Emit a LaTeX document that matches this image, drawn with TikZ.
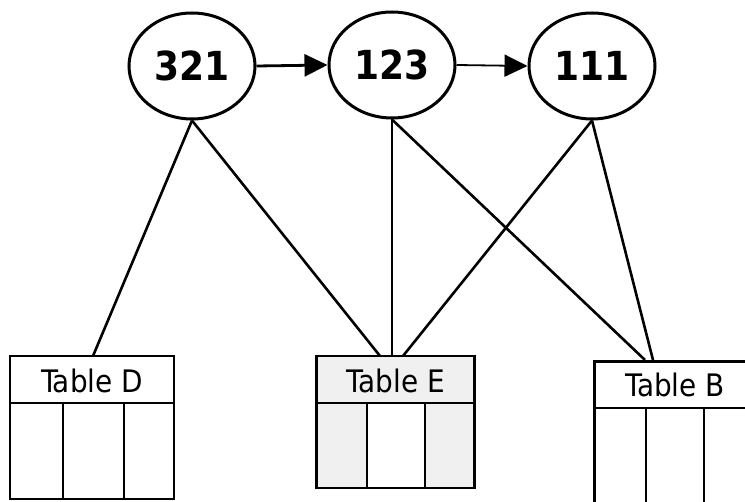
\documentclass[tikz,border=0pt]{standalone}
\usepackage{fontspec}
\usetikzlibrary{shapes.geometric,arrows.meta}
\newfontfamily\condfont{DejaVu Sans Condensed}
\begin{document}
\begin{tikzpicture}[x=1pt,y=-1pt,
  oval/.style={ellipse,draw,line width=3pt,minimum width=126pt,minimum height=106pt,inner sep=0pt,
    font=\condfont\bfseries\fontsize{40}{42}\selectfont},
  link/.style={line width=2.6pt},
  arr/.style={-{Triangle[length=23pt,width=22pt]}},
  tbl/.style={draw,line width=2.7pt,rectangle,inner sep=0pt},
  tlabel/.style={font=\condfont\fontsize{31}{33}\selectfont,inner sep=0pt},
  speck/.style={fill=black!6,draw=none}
]
\useasboundingbox (0,0) rectangle (745,502);
\clip (0,0) rectangle (745,502);
\fill[white] (0,0) rectangle (745,502);

% ovals
\node[oval] (n321) at (192,66) {321};
\node[oval] (n123) at (392,65) {123};
\node[oval] (n111) at (592,66) {111};

\draw[line width=2.8pt,arr] (n321.east) -- (n123.west);
\draw[line width=1.8pt,arr] (n123.east) -- (n111.west);

% Table D
\node[tbl,minimum width=164pt,minimum height=143pt] (tD) at (92,427.5) {};
\draw[line width=2.7pt] (11,403) -- (174,403);
\draw[line width=2.7pt] (63,403) -- (63,499);
\draw[line width=2.7pt] (124,403) -- (124,499);
\node[tlabel] (lD) at (92,381) {Table D};

% Table E
\fill[speck] (317,357) rectangle (474,402);
\fill[speck] (317,404) rectangle (366,487);
\fill[speck] (426,404) rectangle (474,487);
\node[tbl,minimum width=158pt,minimum height=132pt] (tE) at (395.5,422) {};
\draw[line width=2.7pt] (316,403) -- (475,403);
\draw[line width=2.7pt] (367,403) -- (367,488);
\draw[line width=2.7pt] (425,403) -- (425,488);
\node[tlabel] (lE) at (396,381) {Table E};

% Table B (runs off the picture)
\node[tbl,minimum width=170pt,minimum height=170pt,anchor=north west] (tB) at (593,360) {};
\draw[line width=2.7pt] (593,408) -- (763,408);
\draw[line width=2.7pt] (646,408) -- (646,530);
\draw[line width=2.7pt] (704,408) -- (704,530);
\node[tlabel] (lB) at (675,385) {Table B};

% connector end points on table tops
\coordinate (dTop) at (93,356);
\coordinate (eTop1) at (380,356);
\coordinate (eTop2) at (392,356);
\coordinate (eTop3) at (403,356);
\coordinate (bTop1) at (645,360);
\coordinate (bTop2) at (653,360);

\draw[link] (n321.south) -- (dTop);
\draw[link] (n321.south) -- (eTop1);
\draw[link] (n123.south) -- (eTop2);
\draw[link] (n123.south) -- (bTop1);
\draw[link] (n111.south) -- (eTop3);
\draw[link] (n111.south) -- (bTop2);
\end{tikzpicture}
\end{document}
